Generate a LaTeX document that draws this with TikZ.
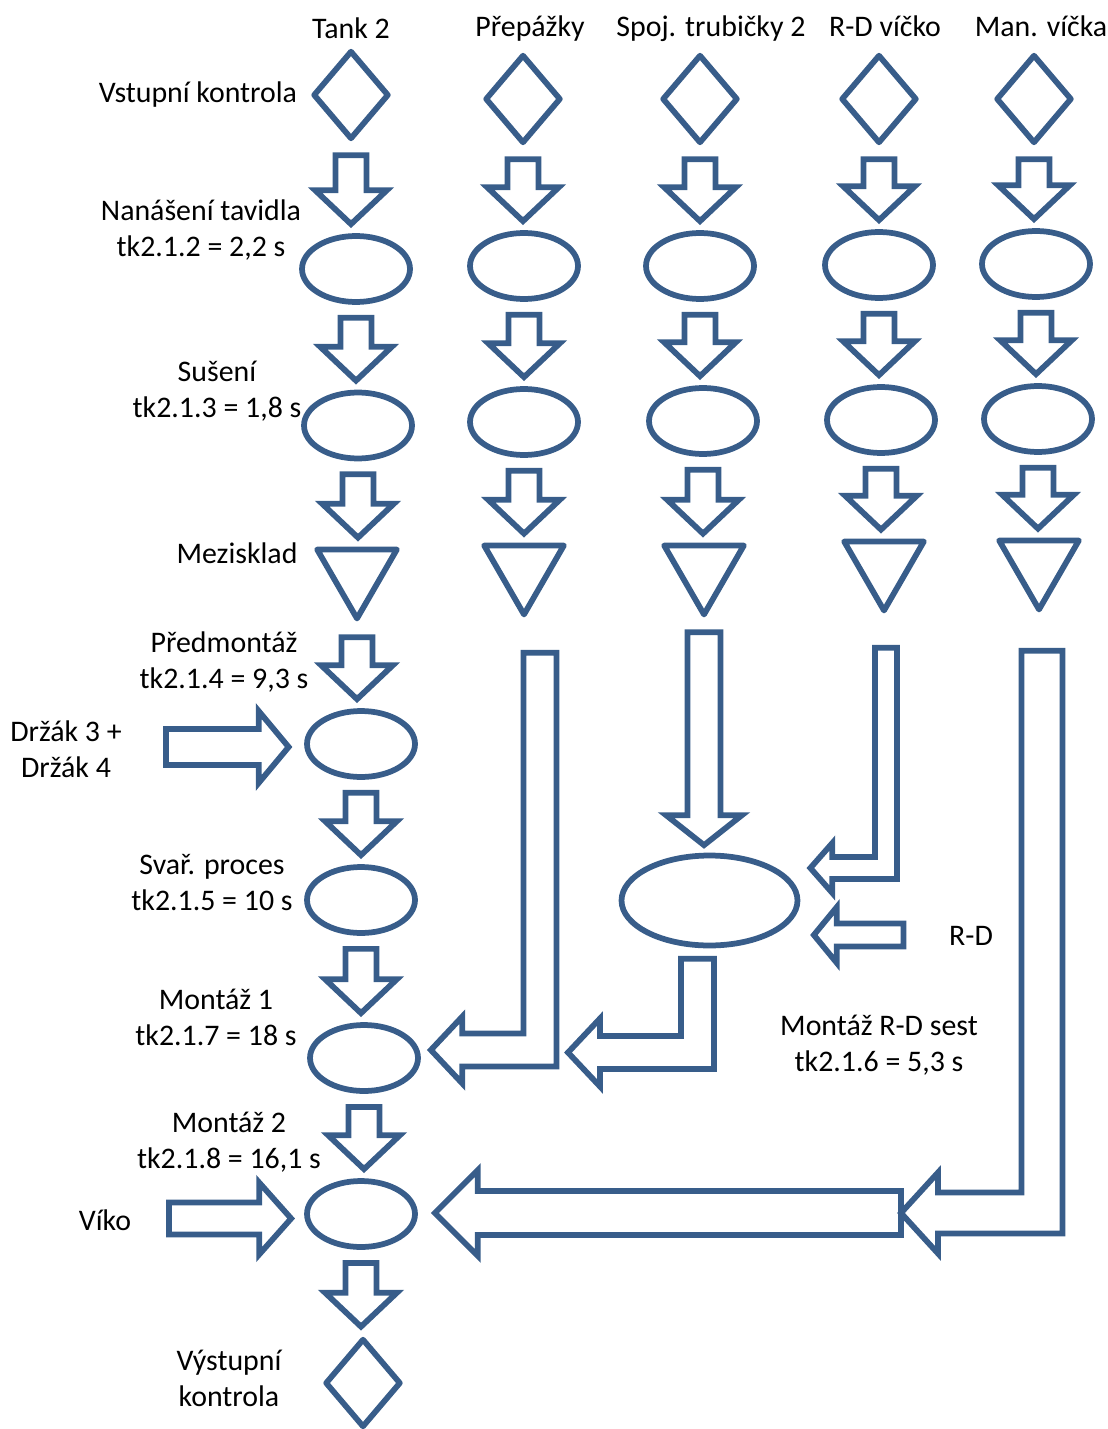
\documentclass[tikz,border=0pt]{standalone}
\usepackage{fontspec}
\setmainfont{Carlito}
\usepackage{xcolor}
\usepackage{tikz}
\usetikzlibrary{shapes.geometric,calc}
\definecolor{proud}{RGB}{56,93,138}
\tikzset{
  kontr/.style ={diamond,draw=proud,line width=1.15mm,line join=round,minimum width=1.52cm,minimum height=1.78cm,inner sep=0pt},
  oper/.style  ={ellipse,draw=proud,line width=1.15mm,minimum width=2.16cm,minimum height=1.32cm,inner sep=0pt},
  sklad/.style ={regular polygon,regular polygon sides=3,shape border rotate=180,draw=proud,line width=1.15mm,line join=round,minimum size=1.84cm,inner sep=0pt},
  lbl/.style   ={font=\fontsize{17}{20.2}\selectfont,align=center,inner sep=0pt,execute at begin node=\strut,execute at end node=\strut},
  blok/.style  ={draw=proud,line width=1.15mm,line join=miter},
  dolu/.style n args={5}{blok,to path={let \p1=(\tikztostart.south),\p2=(\tikztotarget.north) in
    (\x1-#1,\y1-#4) -- (\x1+#1,\y1-#4) -- (\x1+#1,\y2+#5+#3) -- (\x1+#2,\y2+#5+#3)
    -- (\x1,\y2+#5) -- (\x1-#2,\y2+#5+#3) -- (\x1-#1,\y2+#5+#3) -- cycle}},
  krok/.style={dolu={0.31cm}{0.72cm}{0.68cm}{0.26cm}{0.18cm}},
  doprava/.style n args={4}{blok,to path={let \p1=(\tikztostart),\p2=(\tikztotarget.west) in
    (\x1,\y1+#1) -- (\x2-#4-#3,\y1+#1) -- (\x2-#4-#3,\y1+#2) -- (\x2-#4,\y1)
    -- (\x2-#4-#3,\y1-#2) -- (\x2-#4-#3,\y1-#1) -- (\x1,\y1-#1) -- cycle}},
  doleva/.style n args={4}{blok,to path={let \p1=(\tikztostart),\p2=(\tikztotarget.east) in
    (\x1,\y1+#1) -- (\x2+#4+#3,\y1+#1) -- (\x2+#4+#3,\y1+#2) -- (\x2+#4,\y1)
    -- (\x2+#4+#3,\y1-#2) -- (\x2+#4+#3,\y1-#1) -- (\x1,\y1-#1) -- cycle}},
  lko/.style n args={3}{blok,to path={let \p1=(\tikztostart),\p2=(\tikztotarget) in
    (\x1-#1,\y1) -- (\x1+#1,\y1) -- (\x1+#1,\y2-#1) -- (\x2+#3,\y2-#1) -- (\x2+#3,\y2-#2)
    -- (\x2,\y2) -- (\x2+#3,\y2+#2) -- (\x2+#3,\y2+#1) -- (\x1-#1,\y2+#1) -- cycle}},
}
\begin{document}
\begin{tikzpicture}[x=0.02cm,y=-0.02cm]
  \useasboundingbox (0,0) rectangle (1108,1429);

  \node[lbl,anchor=base] (hT) at (351,39) {Tank 2};
  \node[lbl,anchor=base] (hP) at (530,37) {Přepážky};
  \node[lbl,anchor=base] (hS) at (711,37) {Spoj. trubičky 2};
  \node[lbl,anchor=base] (hR) at (885,37) {R-D víčko};
  \node[lbl,anchor=base] (hM) at (1041,37) {Man. víčka};

  \node[lbl,anchor=base] (lVst) at (198,103) {Vstupní kontrola};
  \node[lbl] (lNan) at (201,233.5) {Nanášení tavidla\\tk2.1.2 = 2,2 s};
  \node[lbl] (lSus) at (217,394.5) {Sušení\\tk2.1.3 = 1,8 s};
  \node[lbl,anchor=base] (lMez) at (237,563) {Mezisklad};
  \node[lbl] (lPre) at (224,665.5) {Předmontáž\\tk2.1.4 = 9,3 s};
  \node[lbl] (lDrz) at (66,754.5) {Držák 3 +\\Držák 4};
  \node[lbl] (lSva) at (212,887.5) {Svař. proces\\tk2.1.5 = 10 s};
  \node[lbl] (lMo1) at (216,1022.5) {Montáž 1\\tk2.1.7 = 18 s};
  \node[lbl] (lMo2) at (229,1145.5) {Montáž 2\\tk2.1.8 = 16,1 s};
  \node[lbl,anchor=base] (lVik) at (105,1230) {Víko};
  \node[lbl] (lVys) at (229,1383.5) {Výstupní\\kontrola};
  \node[lbl,anchor=base] (lRD) at (971,945) {R-D};
  \node[lbl] (lMRD) at (879,1048.5) {Montáž R-D sest\\tk2.1.6 = 5,3 s};

  \node[kontr] (d11) at (351,95) {};
  \node[oper]  (e11) at (356,269) {};
  \node[oper]  (e12) at (358,425.5) {};
  \node[sklad] (t1)  at (357,572.5) {};
  \node[oper]  (e13) at (361,744) {};
  \node[oper]  (e14) at (361,900) {};
  \node[oper]  (e15) at (364,1058) {};
  \node[oper]  (e16) at (361,1214) {};
  \node[kontr] (d12) at (363,1383) {};

  \node[kontr] (d21) at (523,99) {};
  \node[oper]  (e21) at (524,266) {};
  \node[oper]  (e22) at (524,422) {};
  \node[sklad] (t2)  at (524,568.5) {};

  \node[kontr] (d31) at (700,99) {};
  \node[oper]  (e31) at (700,266) {};
  \node[oper]  (e32) at (703,421) {};
  \node[sklad] (t3)  at (704,568.5) {};
  \node[ellipse,draw=proud,line width=1.15mm,minimum width=3.52cm,minimum height=1.8cm,inner sep=0pt] (e33) at (709.5,900.5) {};

  \node[kontr] (d41) at (879,99) {};
  \node[oper]  (e41) at (879,265) {};
  \node[oper]  (e42) at (881,420) {};
  \node[sklad] (t4)  at (884,564.5) {};

  \node[kontr] (d51) at (1034,99) {};
  \node[oper]  (e51) at (1036,264) {};
  \node[oper]  (e52) at (1038,419) {};
  \node[sklad] (t5)  at (1039,563.5) {};

  \draw[krok] (d11) to (e11);
  \draw[krok] (e11) to (e12);
  \draw[krok] (e12) to (t1);
  \draw[krok] (t1) to (e13);
  \draw[krok] (e13) to (e14);
  \draw[krok] (e14) to (e15);
  \draw[krok] (e15) to (e16);
  \draw[krok] (e16) to (d12);

  \draw[krok] (d21) to (e21);
  \draw[krok] (e21) to (e22);
  \draw[krok] (e22) to (t2);
  \draw[krok] (d31) to (e31);
  \draw[krok] (e31) to (e32);
  \draw[krok] (e32) to (t3);
  \draw[krok] (d41) to (e41);
  \draw[krok] (e41) to (e42);
  \draw[krok] (e42) to (t4);
  \draw[krok] (d51) to (e51);
  \draw[krok] (e51) to (e52);
  \draw[krok] (e52) to (t5);

  \draw[dolu={0.33cm}{0.76cm}{0.6cm}{0.24cm}{0.15cm}] (t3) to (e33);

  \coordinate (drzin) at (166,747);
  \coordinate (vikin) at (169,1218.5);
  \coordinate (rdin)  at (903.5,935);
  \coordinate (l3tip) at (568,1052.5);
  \coordinate (l5tip) at (901,1213);

  \draw[doprava={0.36cm}{0.72cm}{0.6cm}{0.31cm}] (drzin) to (e13);
  \draw[doprava={0.32cm}{0.72cm}{0.64cm}{0.26cm}] (vikin) to (e16);
  \draw[doleva={0.23cm}{0.56cm}{0.46cm}{0.27cm}] (rdin) to (e33);

  \draw[lko={0.33cm}{0.67cm}{0.63cm}] ([xshift=0.32cm,yshift=-0.65cm]t2.south) to ([xshift=0.2cm,yshift=0.16cm]e15.east);
  \draw[lko={0.33cm}{0.68cm}{0.64cm}] ([xshift=-0.24cm,yshift=-0.21cm]e33.south) to (l3tip);
  \draw[lko={0.22cm}{0.5cm}{0.44cm}] ([xshift=0.04cm,yshift=-0.63cm]t4.south) to ([xshift=0.2cm,yshift=0.65cm]e33.east);
  \draw[lko={0.41cm}{0.81cm}{0.74cm}] ([xshift=0.06cm,yshift=-0.71cm]t5.south) to (l5tip);
  \draw[doleva={0.44cm}{0.86cm}{0.86cm}{0.34cm}] (l5tip) to (e16);
\end{tikzpicture}
\end{document}
